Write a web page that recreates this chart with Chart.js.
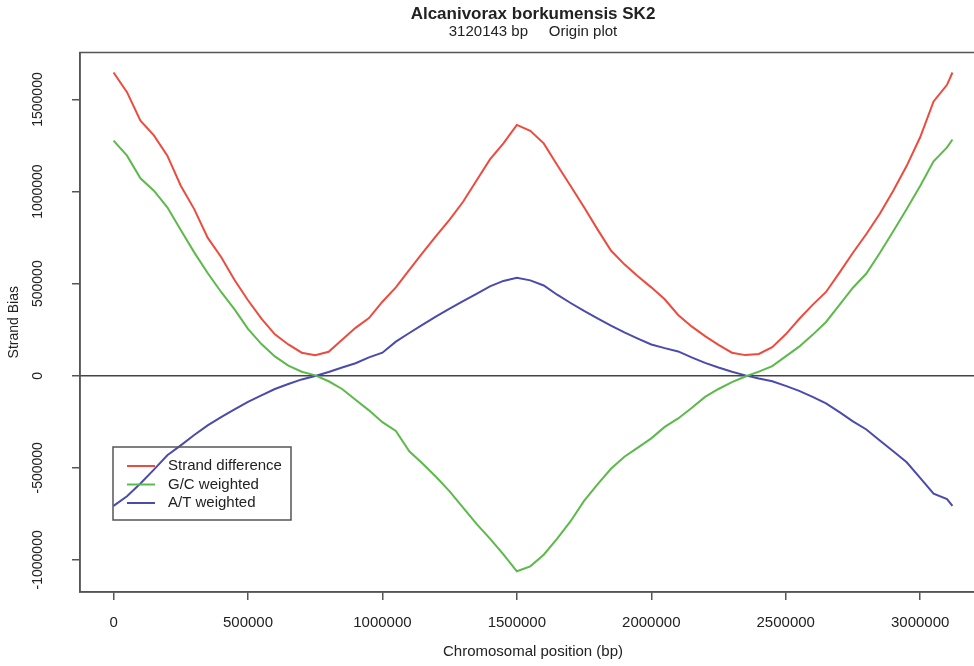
<!DOCTYPE html>
<html>
<head>
<meta charset="utf-8">
<title>Alcanivorax borkumensis SK2</title>
<script src="https://cdn.jsdelivr.net/npm/chart.js@4.4.0/dist/chart.umd.min.js"></script>
<style>
    html, body { margin: 0; padding: 0; background: #fff; overflow: hidden; }
    #wrap { width: 974px; height: 666px; overflow: hidden; position: relative; }
</style>
</head>
<body>
<div id="wrap"><canvas id="chart-container" width="990" height="666"></canvas></div>
<script>
const positions = [
    0, 50000, 100000, 150000, 200000, 250000, 300000, 350000, 400000, 450000,
    500000, 550000, 600000, 650000, 700000, 750000, 800000, 850000, 900000, 950000,
    1000000, 1050000, 1100000, 1150000, 1200000, 1250000, 1300000, 1350000, 1400000, 1450000,
    1500000, 1550000, 1600000, 1650000, 1700000, 1750000, 1800000, 1850000, 1900000, 1950000,
    2000000, 2050000, 2100000, 2150000, 2200000, 2250000, 2300000, 2350000, 2400000, 2450000,
    2500000, 2550000, 2600000, 2650000, 2700000, 2750000, 2800000, 2850000, 2900000, 2950000,
    3000000, 3050000, 3100000, 3120143
];

const strandDifference = [
    1647000, 1540000, 1385000, 1305000, 1195000, 1032000, 905000, 750000, 645000, 520000,
    410000, 310000, 225000, 170000, 125000, 112000, 130000, 195000, 260000, 313000,
    402000, 480000, 575000, 668000, 760000, 848000, 945000, 1060000, 1175000, 1262000,
    1362000, 1330000, 1262000, 1145000, 1030000, 915000, 795000, 680000, 605000, 540000,
    480000, 415000, 330000, 268000, 215000, 168000, 125000, 112000, 118000, 155000,
    225000, 308000, 385000, 455000, 560000, 668000, 770000, 880000, 1005000, 1140000,
    1295000, 1490000, 1580000, 1647000
];

const gcWeighted = [
    1277000, 1195000, 1072000, 1005000, 915000, 792000, 670000, 558000, 455000, 360000,
    255000, 172000, 105000, 55000, 22000, 2000, -30000, -72000, -130000, -188000,
    -252000, -300000, -410000, -478000, -550000, -628000, -716000, -805000, -885000, -970000,
    -1062000, -1035000, -972000, -885000, -790000, -680000, -590000, -505000, -440000, -390000,
    -340000, -278000, -232000, -175000, -115000, -72000, -35000, -4000, 22000, 52000,
    105000, 158000, 222000, 292000, 385000, 478000, 555000, 667000, 785000, 905000,
    1030000, 1165000, 1240000, 1283000
];

const atWeighted = [
    -707000, -655000, -585000, -510000, -432000, -378000, -322000, -270000, -225000, -183000,
    -142000, -107000, -72000, -45000, -20000, -1000, 20000, 45000, 68000, 100000,
    125000, 185000, 232000, 278000, 322000, 365000, 405000, 445000, 485000, 515000,
    532000, 518000, 490000, 440000, 395000, 352000, 312000, 272000, 235000, 202000,
    170000, 150000, 132000, 100000, 70000, 45000, 22000, 2000, -15000, -30000,
    -55000, -82000, -115000, -150000, -198000, -248000, -292000, -352000, -410000, -470000,
    -555000, -640000, -670000, -707000
];

const seriesNames = ["Strand difference", "G/C weighted", "A/T weighted"];
const seriesColors = ["#ee4a3d", "#5cba4a", "#4a4bad"];

const xTicks = [0, 500000, 1000000, 1500000, 2000000, 2500000, 3000000];
const yTicks = [-1000000, -500000, 0, 500000, 1000000, 1500000];

const chartTitle = "Alcanivorax borkumensis SK2";
const chartSubtitle = "3120143 bp     Origin plot";
const xTitle = "Chromosomal position (bp)";
const yTitle = "Strand Bias";

const FONT = "'Liberation Sans', Arial, Helvetica, sans-serif";
const INK = "#222";
const FRAME = "#555";

function toPoints(values) {
    return positions.map((x, i) => ({ x: x, y: values[i] }));
}

const framePlugin = {
    id: "frame",
    beforeDatasetsDraw(chart) {
        const ctx = chart.ctx;
        const area = chart.chartArea;
        const y0 = chart.scales.y.getPixelForValue(0);
        ctx.save();
        ctx.strokeStyle = "#444";
        ctx.lineWidth = 1.5;
        ctx.beginPath();
        ctx.moveTo(area.left, y0);
        ctx.lineTo(area.right, y0);
        ctx.stroke();
        ctx.restore();
    },
    afterDraw(chart) {
        const ctx = chart.ctx;
        const area = chart.chartArea;
        const cx = (area.left + area.right) / 2;
        ctx.save();

        ctx.strokeStyle = FRAME;
        ctx.lineWidth = 1.5;
        ctx.strokeRect(area.left, area.top, area.right - area.left, area.bottom - area.top);

        ctx.fillStyle = INK;
        ctx.textAlign = "center";
        ctx.textBaseline = "middle";
        ctx.font = "bold 17px " + FONT;
        ctx.fillText(chartTitle, cx, 14);
        ctx.font = "15px " + FONT;
        ctx.fillText(chartSubtitle, cx, 32);

        // legend box, lower left of the plot
        const lx = 113, ly = 447, lw = 178, lh = 73;
        ctx.strokeStyle = FRAME;
        ctx.lineWidth = 1.5;
        ctx.strokeRect(lx, ly, lw, lh);
        ctx.font = "15px " + FONT;
        ctx.textAlign = "left";
        for (let i = 0; i < seriesNames.length; i++) {
            const ry = ly + 19 + i * 18.5;
            ctx.strokeStyle = seriesColors[i];
            ctx.lineWidth = 2;
            ctx.beginPath();
            ctx.moveTo(lx + 14, ry);
            ctx.lineTo(lx + 42, ry);
            ctx.stroke();
            ctx.fillStyle = INK;
            ctx.fillText(seriesNames[i], lx + 55, ry);
        }
        ctx.restore();
    }
};

document.addEventListener("DOMContentLoaded", function () {
    const ctx = document.getElementById("chart-container").getContext("2d");

    new Chart(ctx, {
        type: "line",
        data: {
            datasets: [
                { label: seriesNames[0], data: toPoints(strandDifference), borderColor: seriesColors[0] },
                { label: seriesNames[1], data: toPoints(gcWeighted), borderColor: seriesColors[1] },
                { label: seriesNames[2], data: toPoints(atWeighted), borderColor: seriesColors[2] }
            ]
        },
        options: {
            responsive: false,
            animation: false,
            layout: { padding: { top: 52.5, right: 4, left: 0, bottom: 0 } },
            elements: {
                point: { radius: 0 },
                line: { borderWidth: 2, tension: 0 }
            },
            plugins: {
                legend: { display: false },
                tooltip: { enabled: false }
            },
            scales: {
                x: {
                    type: "linear",
                    min: -124806,
                    max: 3244949,
                    afterBuildTicks: function (scale) {
                        scale.ticks = xTicks.map(v => ({ value: v }));
                    },
                    afterFit: function (scale) {
                        scale.height = 74;
                    },
                    grid: { drawOnChartArea: false, drawTicks: true, tickLength: 8, color: FRAME, lineWidth: 1.5 },
                    border: { display: true, color: FRAME, width: 1.5 },
                    ticks: {
                        autoSkip: false,
                        maxRotation: 0,
                        padding: 14,
                        color: INK,
                        font: { family: FONT, size: 15 },
                        callback: v => String(v)
                    },
                    title: {
                        display: true,
                        text: xTitle,
                        color: INK,
                        font: { family: FONT, size: 15 },
                        padding: { top: 0, bottom: 5 }
                    }
                },
                y: {
                    type: "linear",
                    min: -1174500,
                    max: 1755500,
                    afterBuildTicks: function (scale) {
                        scale.ticks = yTicks.map(v => ({ value: v }));
                    },
                    afterFit: function (scale) {
                        scale.width = 80;
                    },
                    grid: { drawOnChartArea: false, drawTicks: true, tickLength: 8, color: FRAME, lineWidth: 1.5 },
                    border: { display: true, color: FRAME, width: 1.5 },
                    ticks: {
                        minRotation: 90,
                        maxRotation: 90,
                        crossAlign: "center",
                        padding: 4,
                        color: INK,
                        font: { family: FONT, size: 14 },
                        callback: v => String(v)
                    },
                    title: {
                        display: true,
                        text: yTitle,
                        color: INK,
                        font: { family: FONT, size: 14 },
                        padding: { top: 6, bottom: 0 }
                    }
                }
            }
        },
        plugins: [framePlugin]
    });
});
</script>
</body>
</html>
